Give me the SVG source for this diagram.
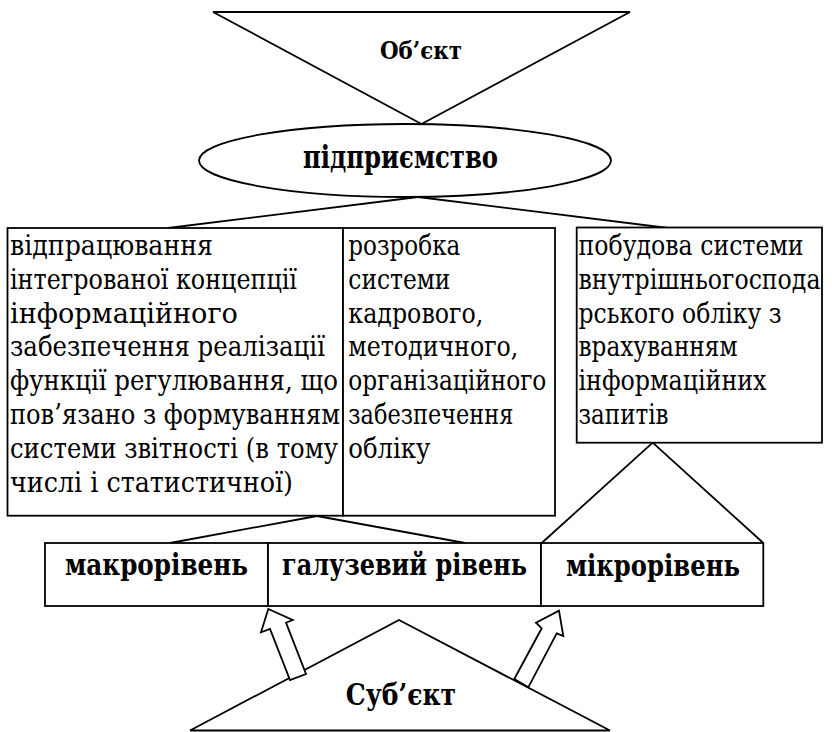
<svg xmlns="http://www.w3.org/2000/svg" width="832" height="732" viewBox="0 0 832 732">
<style>
.s{fill:#fff;stroke:#000;stroke-width:1.8}
.c{fill:none;stroke:#000;stroke-width:1.8}
.b{font-family:"DejaVu Serif","Liberation Serif",serif;font-weight:bold;fill:#000}
.t{font-family:"DejaVu Serif","Liberation Serif",serif;font-size:28px;fill:#000}
</style>
<rect width="832" height="732" fill="#fff"/>
<g id="object">
<polygon class="s" points="213,12 630,12 421.5,124"/>
<text class="b" transform="scale(0.76,1)" x="553.9" y="59" font-size="25" text-anchor="middle" textLength="107.9" lengthAdjust="spacingAndGlyphs">Об’єкт</text>
</g>
<g id="enterprise">
<ellipse class="s" cx="405" cy="160.5" rx="206" ry="36.5"/>
<text class="b" transform="scale(0.76,1)" x="527" y="168" font-size="32" text-anchor="middle" textLength="256.6" lengthAdjust="spacingAndGlyphs">підприємство</text>
</g>
<g id="connectors">
<line class="c" x1="418" y1="197" x2="168" y2="228"/>
<line class="c" x1="418" y1="197" x2="668" y2="228"/>
<line class="c" x1="317" y1="516" x2="170" y2="543"/>
<line class="c" x1="317" y1="516" x2="465" y2="543"/>
<line class="c" x1="652.7" y1="442.7" x2="541.7" y2="543"/>
<line class="c" x1="652.7" y1="442.7" x2="763.3" y2="543"/>
</g>
<g id="box1">
<rect class="s" x="7.5" y="228" width="335.5" height="287.7"/>
<g transform="scale(0.82,1)">
<text class="t" x="12.2" y="255" textLength="247.6" lengthAdjust="spacingAndGlyphs">відпрацювання</text>
<text class="t" x="12.2" y="288.8" textLength="350" lengthAdjust="spacingAndGlyphs">інтегрованої концепції</text>
<text class="t" x="12.2" y="322.6" textLength="278" lengthAdjust="spacingAndGlyphs">інформаційного</text>
<text class="t" x="12.2" y="356.4" textLength="384.1" lengthAdjust="spacingAndGlyphs">забезпечення реалізації</text>
<text class="t" x="12.2" y="390.2" textLength="400" lengthAdjust="spacingAndGlyphs">функції регулювання, що</text>
<text class="t" x="12.2" y="424" textLength="402.4" lengthAdjust="spacingAndGlyphs">пов’язано з формуванням</text>
<text class="t" x="12.2" y="457.8" textLength="400" lengthAdjust="spacingAndGlyphs">системи звітності (в тому</text>
<text class="t" x="12.2" y="491.6" textLength="345.1" lengthAdjust="spacingAndGlyphs">числі і статистичної)</text>
</g>
</g>
<g id="box2">
<rect class="s" x="343" y="228" width="212" height="287.7"/>
<g transform="scale(0.82,1)">
<text class="t" x="424.8" y="255" textLength="136.6" lengthAdjust="spacingAndGlyphs">розробка</text>
<text class="t" x="424.8" y="288.8" textLength="124.4" lengthAdjust="spacingAndGlyphs">системи</text>
<text class="t" x="424.8" y="322.6" textLength="164.6" lengthAdjust="spacingAndGlyphs">кадрового,</text>
<text class="t" x="424.8" y="356.4" textLength="207.3" lengthAdjust="spacingAndGlyphs">методичного,</text>
<text class="t" x="424.8" y="390.2" textLength="241.5" lengthAdjust="spacingAndGlyphs">організаційного</text>
<text class="t" x="424.8" y="424" textLength="201.2" lengthAdjust="spacingAndGlyphs">забезпечення</text>
<text class="t" x="424.8" y="457.8" textLength="100" lengthAdjust="spacingAndGlyphs">обліку</text>
</g>
</g>
<g id="box3">
<rect class="s" x="576.7" y="227.5" width="245.3" height="215.2"/>
<g transform="scale(0.82,1)">
<text class="t" x="705.5" y="255" textLength="274.4" lengthAdjust="spacingAndGlyphs">побудова системи</text>
<text class="t" x="705.5" y="288.8" textLength="295.1" lengthAdjust="spacingAndGlyphs">внутрішньогоспода</text>
<text class="t" x="705.5" y="322.6" textLength="247.6" lengthAdjust="spacingAndGlyphs">рського обліку з</text>
<text class="t" x="705.5" y="356.4" textLength="193.9" lengthAdjust="spacingAndGlyphs">врахуванням</text>
<text class="t" x="705.5" y="390.2" textLength="229.3" lengthAdjust="spacingAndGlyphs">інформаційних</text>
<text class="t" x="705.5" y="424" textLength="109.8" lengthAdjust="spacingAndGlyphs">запитів</text>
</g>
</g>
<g id="macro">
<rect class="s" x="45" y="543" width="223" height="63"/>
<text class="b" transform="scale(0.76,1)" x="85.5" y="575" font-size="30" textLength="240.8" lengthAdjust="spacingAndGlyphs">макрорівень</text>
</g>
<g id="branch">
<rect class="s" x="268" y="543" width="273" height="63"/>
<text class="b" transform="scale(0.76,1)" x="371" y="575" font-size="30" textLength="322.4" lengthAdjust="spacingAndGlyphs">галузевий рівень</text>
</g>
<g id="micro">
<rect class="s" x="541" y="543" width="222.3" height="63"/>
<text class="b" transform="scale(0.76,1)" x="744.7" y="576.5" font-size="30" textLength="228.9" lengthAdjust="spacingAndGlyphs">мікрорівень</text>
</g>
<g id="subject">
<polygon class="s" points="399,620 610,730.5 190,730.5"/>
<text class="b" transform="scale(0.76,1)" x="454.9" y="705" font-size="30" textLength="145.1" lengthAdjust="spacingAndGlyphs">Суб’єкт</text>
</g>
<g id="arrows">
<polygon class="s" stroke-linejoin="miter" points="268.3,609 292.7,620 286,622.7 306,674 290,680 270,629 261,632.3"/>
<polygon class="s" stroke-linejoin="miter" points="559,610.7 563.3,636 556.7,633.3 528.3,687.3 514.3,679 541.7,628.3 536,622.7"/>
</g>
</svg>
